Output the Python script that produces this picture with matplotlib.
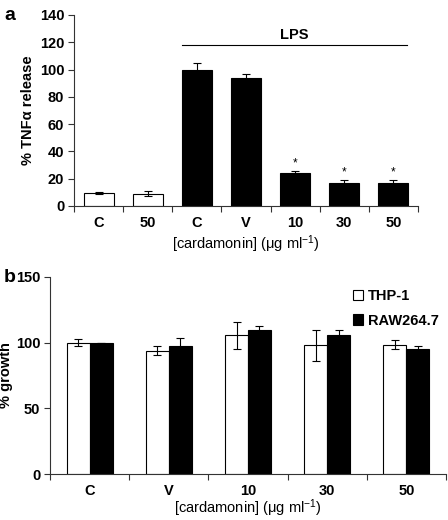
import matplotlib
matplotlib.use("Agg")
import matplotlib.pyplot as plt
import numpy as np

plt.rcParams['font.family'] = ['Liberation Sans', 'DejaVu Sans']
plt.rcParams['font.weight'] = 'bold'
plt.rcParams['axes.labelweight'] = 'bold'
plt.rcParams['mathtext.default'] = 'regular'

# Panel a data
a_labels = ["C", "50", "C", "V", "10", "30", "50"]
a_values = [9.5, 9, 100, 93.5, 24.5, 17, 17]
a_errors = [0.5, 2, 5, 3.5, 1.5, 2.3, 2.3]
a_colors = ["white", "white", "black", "black", "black", "black", "black"]
a_star = [False, False, False, False, True, True, True]

# Panel b data
b_labels = ["C", "V", "10", "30", "50"]
thp1_values = [100, 94, 105.5, 98, 98.5]
thp1_errors = [2.5, 3.4, 10, 12, 3.5]
raw_values = [100, 97.5, 110, 106, 95]
raw_errors = [0, 6, 2.5, 3.5, 2.5]

fig = plt.figure(figsize=(4.48, 5.2), dpi=100)
fs = 10.5
spine_c = "#333333"

# ---- Panel a ----
axa = fig.add_axes([74/448, 1-206/520, (418-74)/448, (206-15)/520])
xa = np.arange(len(a_labels))
axa.bar(xa, a_values, width=0.61, color=a_colors, edgecolor="black", linewidth=0.8,
        yerr=a_errors, error_kw=dict(ecolor="black", elinewidth=0.8, capsize=2.8, capthick=0.8))
for x, v, e, s in zip(xa, a_values, a_errors, a_star):
    if s:
        axa.text(x, v + e + 5, "*", ha="center", va="center", fontsize=8.5, fontweight="normal")
axa.set_xlim(-0.5, len(a_labels) - 0.5)
axa.set_ylim(0, 140)
axa.set_yticks(np.arange(0, 141, 20))
axa.set_xticks(np.arange(-0.5, len(a_labels)))
axa.set_xticklabels([])
axa.set_xticks(xa, minor=True)
axa.set_xticklabels(a_labels, minor=True)
axa.tick_params(axis="x", which="minor", length=0, labelsize=fs, pad=7)
axa.tick_params(axis="x", which="major", length=4, width=0.8, color=spine_c)
axa.tick_params(axis="y", length=4, width=0.8, labelsize=fs, color=spine_c, pad=3)
for sp in ["top", "right"]:
    axa.spines[sp].set_visible(False)
for sp in ["left", "bottom"]:
    axa.spines[sp].set_color(spine_c)
    axa.spines[sp].set_linewidth(0.8)
axa.plot([1.69, 6.27], [118, 118], color="black", linewidth=0.8, clip_on=False)
axa.text(3.98, 125.5, "LPS", ha="center", va="center", fontsize=fs)
axa.set_ylabel("% TNFα release", fontsize=fs)
axa.yaxis.set_label_coords(-0.113, 0.5)
axa.set_xlabel("[cardamonin] (μg ml$^{-1}$)", fontsize=fs, fontweight="normal", labelpad=3)
fig.text(4/448, 1-15/520, "a", fontsize=14, fontweight="bold", ha="left", va="center")

# ---- Panel b ----
axb = fig.add_axes([50/448, 1-474/520, (446-50)/448, (474-277)/520])
xb = np.arange(len(b_labels))
w = 0.29
ek = dict(ecolor="black", elinewidth=0.8, capsize=3.2, capthick=0.8)
axb.bar(xb - w/2, thp1_values, width=w, color="white", edgecolor="black", linewidth=0.8,
        yerr=thp1_errors, error_kw=ek, label="THP-1")
axb.bar(xb + w/2, raw_values, width=w, color="black", edgecolor="black", linewidth=0.8,
        yerr=raw_errors, error_kw=ek, label="RAW264.7")
axb.set_xlim(-0.5, len(b_labels) - 0.5)
axb.set_ylim(0, 150)
axb.set_yticks([0, 50, 100, 150])
axb.set_xticks(np.arange(-0.5, len(b_labels)))
axb.set_xticklabels([])
axb.set_xticks(xb, minor=True)
axb.set_xticklabels(b_labels, minor=True)
axb.tick_params(axis="x", which="minor", length=0, labelsize=fs, pad=7)
axb.tick_params(axis="x", which="major", length=4, width=0.8, color=spine_c)
axb.tick_params(axis="y", length=4, width=0.8, labelsize=fs, color=spine_c, pad=3)
for sp in ["top", "right"]:
    axb.spines[sp].set_visible(False)
for sp in ["left", "bottom"]:
    axb.spines[sp].set_color(spine_c)
    axb.spines[sp].set_linewidth(0.8)
axb.set_ylabel("% growth", fontsize=fs)
axb.yaxis.set_label_coords(-0.094, 0.5)
axb.set_xlabel("[cardamonin] (μg ml$^{-1}$)", fontsize=fs, fontweight="normal", labelpad=0)
leg = axb.legend(loc="upper left", bbox_to_anchor=(0.75, 0.97), frameon=False, fontsize=fs,
                 handlelength=0.7, handleheight=0.7, handletextpad=0.35, labelspacing=0.75,
                 borderaxespad=0)
fig.text(4/448, 1-277/520, "b", fontsize=14, fontweight="bold", ha="left", va="center")

fig.savefig("out.png", dpi=100)
